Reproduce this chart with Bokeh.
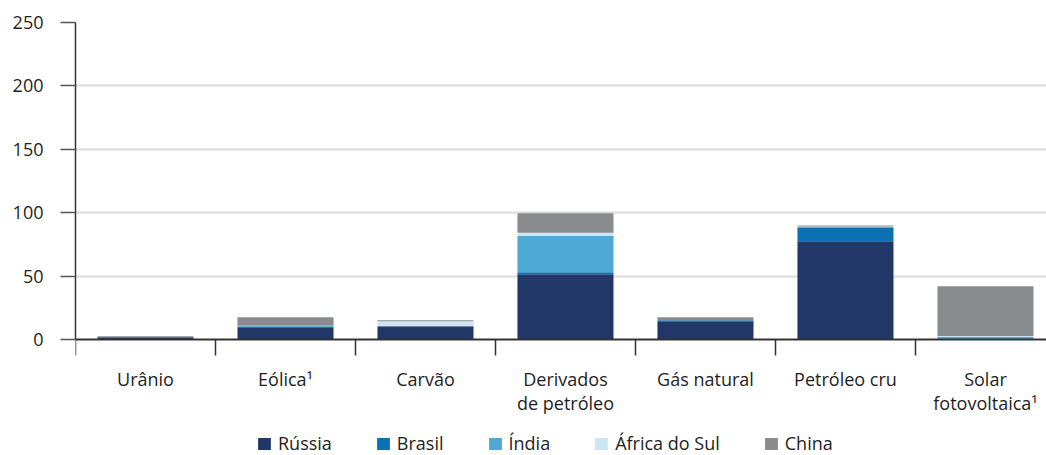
from bokeh.plotting import figure
from bokeh.models import Range1d, FixedTicker, Legend
from bokeh.embed import file_html
from bokeh.resources import INLINE
import numpy as np

categories = ["Urânio", "Eólica¹", "Carvão", "Derivados\nde petróleo", "Gás natural",
              "Petróleo cru", "Solar\nfotovoltaica¹"]
russia = [1.8, 9.7, 10.5, 51.5, 14.4, 77.5, 0.0]
brasil = [0.0, 0.6, 0.0, 1.6, 0.8, 11.0, 0.0]
india = [0.0, 0.7, 0.0, 28.6, 0.0, 0.0, 2.0]
africa = [0.0, 0.0, 3.9, 2.4, 0.0, 0.6, 0.8]
china = [0.8, 6.6, 0.8, 15.5, 2.4, 0.9, 39.2]
series_names = ["Rússia", "Brasil", "Índia", "África do Sul", "China"]
colors = ["#203768", "#0c71b4", "#4fa9d6", "#cde5f2", "#8a8b8f"]
y_ticks = [0, 50, 100, 150, 200, 250]

FONT = "Open Sans"
TXT = "#1e1e1e"
FS = "18px"

n = len(categories)
centers = [i + 0.5 for i in range(n)]
bounds = list(range(n + 1))

data = dict(x=centers)
keys = ["s0", "s1", "s2", "s3", "s4"]
for k, vals in zip(keys, [russia, brasil, india, africa, china]):
    data[k] = vals

# frame extends below the zero line so that category labels and legend fit inside it
p = figure(frame_width=971, frame_height=458, output_backend="svg", toolbar_location=None,
           x_range=Range1d(0, 6.936), y_range=Range1d(-111.2, 250),
           min_border_left=75, min_border_right=0, min_border_top=22,
           min_border_bottom=0)
p.outline_line_color = None
p.background_fill_color = "white"
p.border_fill_color = "white"

r = p.vbar_stack(keys, x="x", width=0.686, source=data, color=colors, line_color=None)

# y axis
p.yaxis.ticker = FixedTicker(ticks=y_ticks)
p.yaxis.bounds = (0, 250)
p.yaxis.axis_line_color = "#333333"
p.yaxis.axis_line_width = 1.5
p.yaxis.major_tick_out = 15
p.yaxis.major_tick_in = 0
p.yaxis.major_tick_line_color = "#555555"
p.yaxis.major_tick_line_width = 1.5
p.yaxis.minor_tick_line_color = None
p.yaxis.major_label_standoff = 17
p.yaxis.major_label_text_font = FONT
p.yaxis.major_label_text_font_size = FS
p.yaxis.major_label_text_color = TXT

# x axis at zero: labels at centers, separators at boundaries
p.xaxis.fixed_location = 0
p.xaxis.ticker = FixedTicker(ticks=centers, minor_ticks=bounds)
p.xaxis.major_label_overrides = {c: lab for c, lab in zip(centers, categories)}
p.xaxis.major_tick_line_color = None
p.xaxis.major_tick_out = 0
p.xaxis.major_tick_in = 0
p.xaxis.minor_tick_out = 16
p.xaxis.minor_tick_in = 0
p.xaxis.minor_tick_line_color = "#333333"
p.xaxis.minor_tick_line_width = 1.5
p.xaxis.axis_line_color = "#333333"
p.xaxis.axis_line_width = 2
p.xaxis.major_label_standoff = 12
p.xaxis.major_label_text_font = FONT
p.xaxis.major_label_text_font_size = FS
p.xaxis.major_label_text_color = TXT
p.xaxis.major_label_text_line_height = 1.0

p.xgrid.grid_line_color = None
p.ygrid.ticker = FixedTicker(ticks=y_ticks[1:])
p.ygrid.grid_line_color = "#dcdcdc"
p.ygrid.grid_line_width = 2

legend = Legend(items=[(nm, [rr]) for nm, rr in zip(series_names, r)],
                orientation="horizontal", location=(181, 25),
                border_line_color=None, background_fill_alpha=0,
                glyph_width=16, glyph_height=15, label_standoff=6, spacing=43,
                label_text_font=FONT, label_text_font_size=FS,
                label_text_color=TXT, margin=0, padding=0)
p.add_layout(legend, "center")

open("out.html", "w").write(file_html(p, INLINE))
